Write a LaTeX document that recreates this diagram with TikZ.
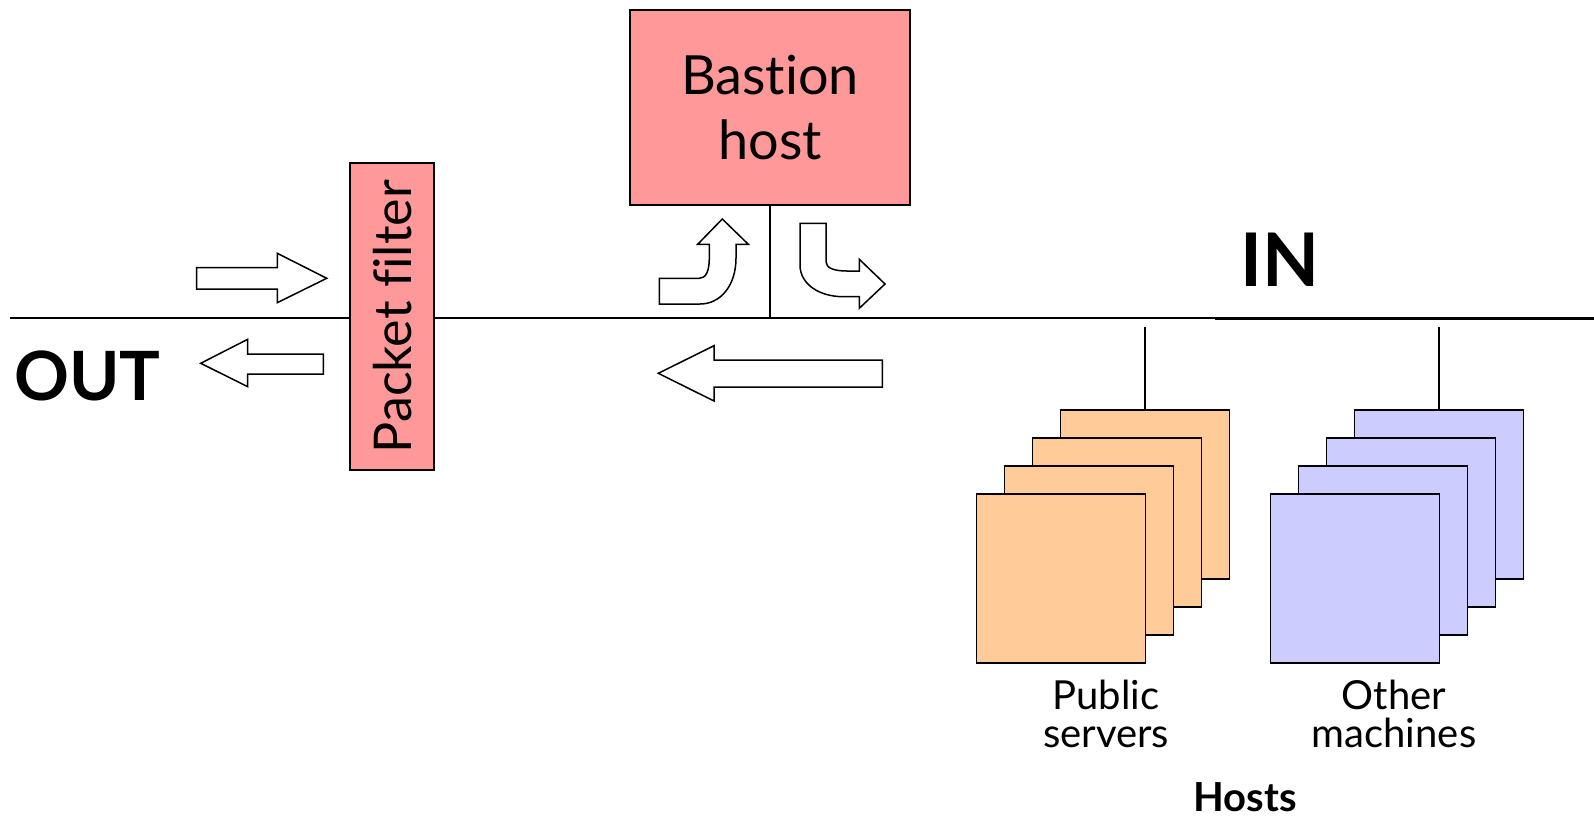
\documentclass[tikz,border=0pt]{standalone}
\usepackage{fontspec}
\setmainfont{Lato}[Ligatures={NoCommon,NoContextual}]
\definecolor{pinkred}{HTML}{FF9999}
\definecolor{srvorange}{HTML}{FFCC99}
\definecolor{lav}{HTML}{CCCCFF}
\begin{document}
\begin{tikzpicture}[x=0.5pt,y=-0.5pt,
  net/.style={line width=1pt},
  tap/.style={line width=1pt},
  blockarrow/.style={draw, line width=0.75pt, fill=white, line join=miter},
  redbox/.style={draw, line width=0.9pt, fill=pinkred, inner sep=0pt},
  hostbox/.style={draw, line width=0.9pt, minimum width=84.5pt, minimum height=84.2pt, inner sep=0pt},
  bigtag/.style={font=\fontsize{34}{40}\selectfont\bfseries, inner sep=0pt},
  hostlabel/.style={font=\fontsize{20}{19}\selectfont, align=center, inner sep=0pt}]
\useasboundingbox (0,0) rectangle (1594,818);

% outer network segment and the inside segment
\coordinate (westend) at (10,317.5);
\coordinate (junction) at (1215,317.5);
\coordinate (injoin) at (1215,318.5);
\coordinate (eastend) at (1594,318.5);
\draw[net] (westend) -- (junction);
\draw[line width=1.4pt] (injoin) -- (eastend);

% packet filter sitting on the wire
\node[redbox, rotate=90, minimum width=153.3pt, minimum height=42.15pt,
      font=\fontsize{26}{30}\selectfont] (pf) at (392.2,316.7) {Packet filter};

% bastion host and its tap
\node[redbox, minimum width=140pt, minimum height=97.5pt, align=center,
      font=\fontsize{27}{32.5}\selectfont] (bastion) at (770,107.5) {Bastion\\host};
\coordinate (bastap) at (770,317.5);
\draw[tap] (bastion.south) -- (bastap);

% labels of the two sides
\node[bigtag, anchor=base] (out) at (87.5,400) {OUT};
\node[bigtag, font=\fontsize{37}{42}\selectfont\bfseries, anchor=base] (in) at (1280,286.7) {IN};

% traffic through the filter
\draw[blockarrow] (196.7,267.7) -- (277.3,267.7) -- (277.3,253.3) -- (326.7,278.3)
  -- (277.3,302.7) -- (277.3,289) -- (196.7,289) -- cycle;
\draw[blockarrow] (323.3,354) -- (247.7,354) -- (247.7,339.3) -- (200.7,363.3)
  -- (247.7,386.7) -- (247.7,374) -- (323.3,374) -- cycle;

% traffic into and out of the bastion host
\draw[blockarrow] (659.3,304) -- (659.3,278.3) -- (699.3,278.3)
  .. controls (706,278.3) and (709.3,271) .. (709.3,258) -- (709.3,244.3)
  -- (697.7,244.3) -- (722.3,219) -- (748.3,244.3) -- (736,244.3) -- (736,258)
  .. controls (736,285) and (721,304) .. (700,304) -- cycle;
\draw[blockarrow] (800,223.3) -- (826,223.3) -- (826,261.7)
  .. controls (826,268) and (834,271) .. (846.7,271) -- (859.3,271)
  -- (859.3,259.3) -- (885,284) -- (859.3,308.3) -- (859.3,296.7) -- (843.3,296.7)
  .. controls (819,296.7) and (800,284) .. (800,265) -- cycle;
\draw[blockarrow] (882.3,360) -- (714,360) -- (714,345.7) -- (658.3,373.3)
  -- (714,401) -- (714,387) -- (882.3,387) -- cycle;

% stacks of hosts on the inside network
\foreach \i in {3,2,1,0} {
  \node[hostbox, fill=srvorange] (pub\i) at ({1061+28*\i},{578.5-28*\i}) {};
  \node[hostbox, fill=lav] (oth\i) at ({1355+28*\i},{578.5-28*\i}) {};
}
\coordinate (pubtap) at (1145,326.7);
\coordinate (othtap) at (1439,326.7);
\draw[tap] (pub3.north) -- (pubtap);
\draw[tap] (oth3.north) -- (othtap);

\node[hostlabel] (publbl) at (1106,714) {Public\\servers};
\node[hostlabel] (othlbl) at (1394,714) {Other\\machines};
\node[font=\fontsize{20}{24}\selectfont\bfseries, anchor=base, inner sep=0pt] (hosts) at (1245,811) {Hosts};
\end{tikzpicture}
\end{document}
